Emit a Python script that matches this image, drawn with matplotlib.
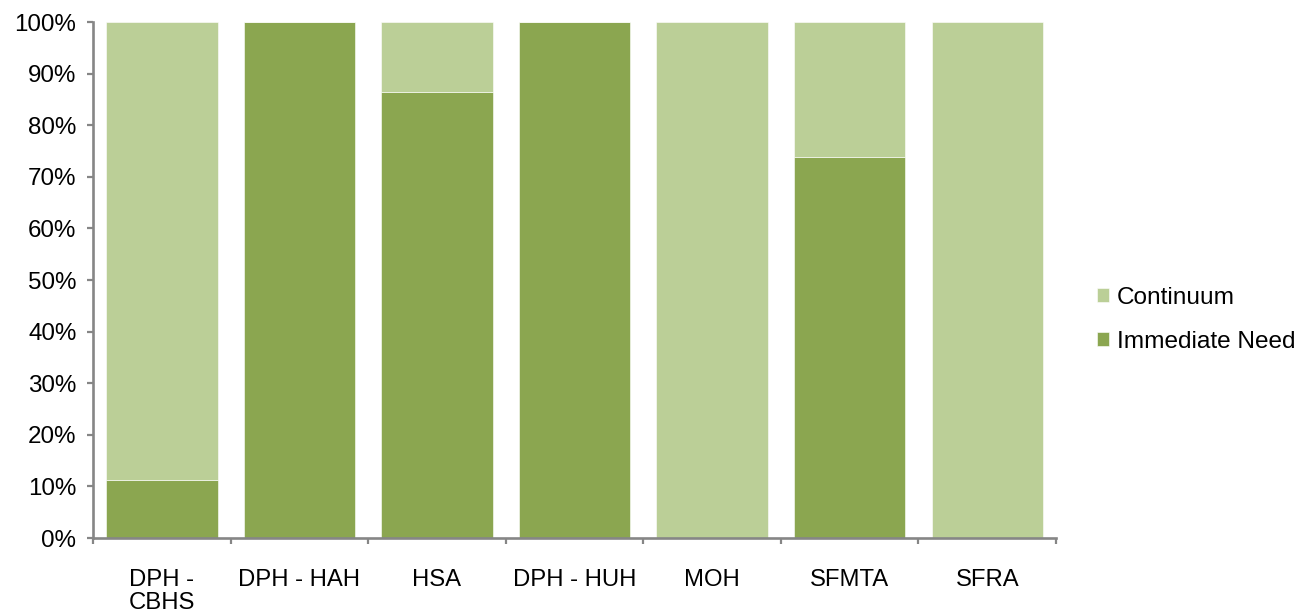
import matplotlib
matplotlib.use("Agg")
import matplotlib.pyplot as plt
from matplotlib.ticker import FixedLocator, PercentFormatter

plt.rcParams['font.family'] = ['Liberation Sans', 'DejaVu Sans']

categories = ["DPH -\nCBHS", "DPH - HAH", "HSA", "DPH - HUH", "MOH", "SFMTA", "SFRA"]
immediate_need = [11.25, 100.0, 86.5, 100.0, 0.0, 73.8, 0.0]
continuum = [100.0 - v for v in immediate_need]

dark_green = "#8BA650"
light_green = "#BBCF97"
axis_gray = "#868686"

fig = plt.figure(figsize=(13.07, 6.13), dpi=100)
ax = fig.add_axes([0.0712, 0.1223, 0.7368, 0.8417])

x = range(len(categories))
b1 = ax.bar(x, immediate_need, width=0.81, color=dark_green, label="Immediate Need",
            edgecolor="white", linewidth=0.4)
b2 = ax.bar(x, continuum, width=0.81, bottom=immediate_need, color=light_green,
            label="Continuum", edgecolor="white", linewidth=0.4)

ax.set_xlim(-0.5, len(categories) - 0.5)
ax.set_ylim(0, 100)
ax.set_yticks(range(0, 101, 10))
ax.yaxis.set_major_formatter(PercentFormatter(decimals=0))

ax.set_xticks(list(x))
ax.set_xticklabels(categories, linespacing=1.07)
ax.xaxis.set_minor_locator(FixedLocator([i - 0.5 for i in range(len(categories) + 1)]))
ax.tick_params(axis="x", which="major", length=0, pad=22.5, labelsize=17.2)
ax.tick_params(axis="x", which="minor", length=4.5, width=1.6, color=axis_gray, direction="out")
ax.tick_params(axis="y", which="major", length=4, width=1.6, color=axis_gray, labelsize=17.4, pad=8)

for side in ("top", "right"):
    ax.spines[side].set_visible(False)
for side in ("left", "bottom"):
    ax.spines[side].set_color(axis_gray)
    ax.spines[side].set_linewidth(1.9)

handles = [b2, b1]
labels = ["Continuum", "Immediate Need"]
fig.legend(handles, labels, loc="center left", bbox_to_anchor=(0.8393, 0.478),
           frameon=False, fontsize=17.6, handlelength=0.5, handleheight=0.5,
           handletextpad=0.3, labelspacing=0.9, borderpad=0, borderaxespad=0)

fig.savefig("out.png", dpi=100)
